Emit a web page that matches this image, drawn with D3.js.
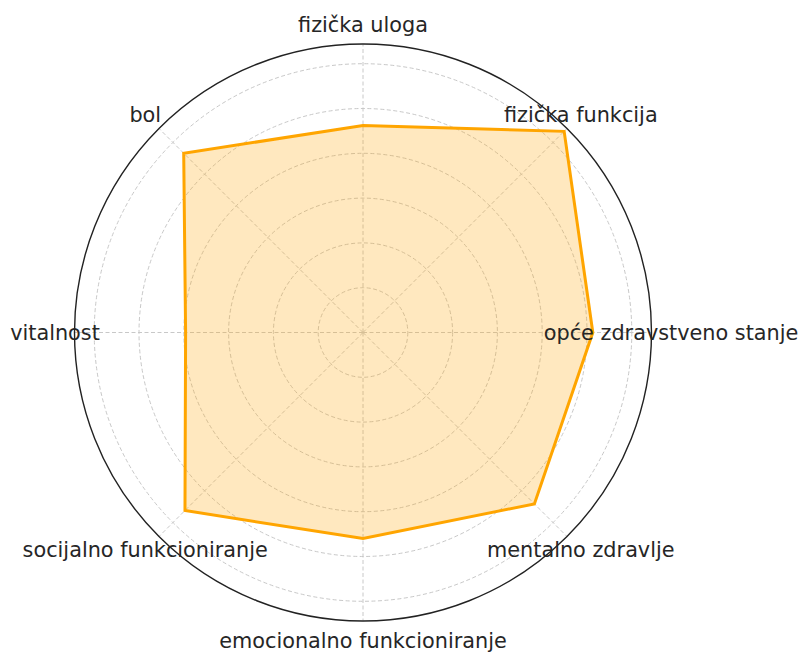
<!DOCTYPE html>
<html>
<head>
<meta charset="utf-8">
<script src="https://cdn.jsdelivr.net/npm/d3@7"></script>
<style>
  body { margin: 0; background: #fff; }
  svg { display: block; }
</style>
</head>
<body>
<div id="chart"></div>
<script>
// categories go counter-clockwise, starting at the right
const categories = [
    "opće zdravstveno stanje",
    "fizička funkcija",
    "fizička uloga",
    "bol",
    "vitalnost",
    "socijalno funkcioniranje",
    "emocionalno funkcioniranje",
    "mentalno zdravlje"
];
const values = [51.3, 63.5, 46.2, 56.6, 39.6, 56.2, 46, 54.1];
const gridTicks = [10, 20, 30, 40, 50, 60];
const rMax = 64.4;

const width = 800, height = 652;
const cx = 363, cy = 332.5;
const outerR = 288.5;

const svg = d3.select("#chart").append("svg")
    .attr("width", width)
    .attr("height", height);

const g = svg.append("g")
    .attr("transform", `translate(${cx},${cy})`);

const r = d3.scaleLinear().domain([0, rMax]).range([0, outerR]);
const angle = d3.scalePoint()
    .domain(categories)
    .range([0, 2 * Math.PI * (categories.length - 1) / categories.length]);

// screen coords: angle measured counter-clockwise from the right
const px = (a, rad) => rad * Math.cos(a);
const py = (a, rad) => -rad * Math.sin(a);

// grid circles
g.append("g").selectAll("circle")
    .data(gridTicks)
    .enter().append("circle")
    .attr("r", d => r(d))
    .attr("fill", "none")
    .attr("stroke", "#c8c8c8")
    .attr("stroke-width", 1)
    .attr("stroke-dasharray", "4,2.5");

// spokes
g.append("g").selectAll("line")
    .data(categories)
    .enter().append("line")
    .attr("x1", 0).attr("y1", 0)
    .attr("x2", d => px(angle(d), outerR))
    .attr("y2", d => py(angle(d), outerR))
    .attr("stroke", "#c8c8c8")
    .attr("stroke-width", 1)
    .attr("stroke-dasharray", "4,2.5");

// data polygon
const pts = categories.map((c, i) => [px(angle(c), r(values[i])), py(angle(c), r(values[i]))]);
g.append("path")
    .attr("d", d3.line()(pts) + "Z")
    .attr("fill", "orange")
    .attr("fill-opacity", 0.25)
    .attr("stroke", "none");
g.append("path")
    .attr("d", d3.line()(pts) + "Z")
    .attr("fill", "none")
    .attr("stroke", "orange")
    .attr("stroke-width", 3)
    .attr("stroke-linejoin", "miter");

// outer frame
g.append("circle")
    .attr("r", outerR)
    .attr("fill", "none")
    .attr("stroke", "#222")
    .attr("stroke-width", 1.4);

// category labels
const labelR = 308;
g.append("g").selectAll("text")
    .data(categories)
    .enter().append("text")
    .attr("x", d => px(angle(d), labelR))
    .attr("y", d => py(angle(d), labelR))
    .attr("text-anchor", "middle")
    .attr("dominant-baseline", "central")
    .attr("font-family", "DejaVu Sans, sans-serif")
    .attr("font-size", "20.8px")
    .attr("fill", "#262626")
    .text(d => d);
</script>
</body>
</html>
